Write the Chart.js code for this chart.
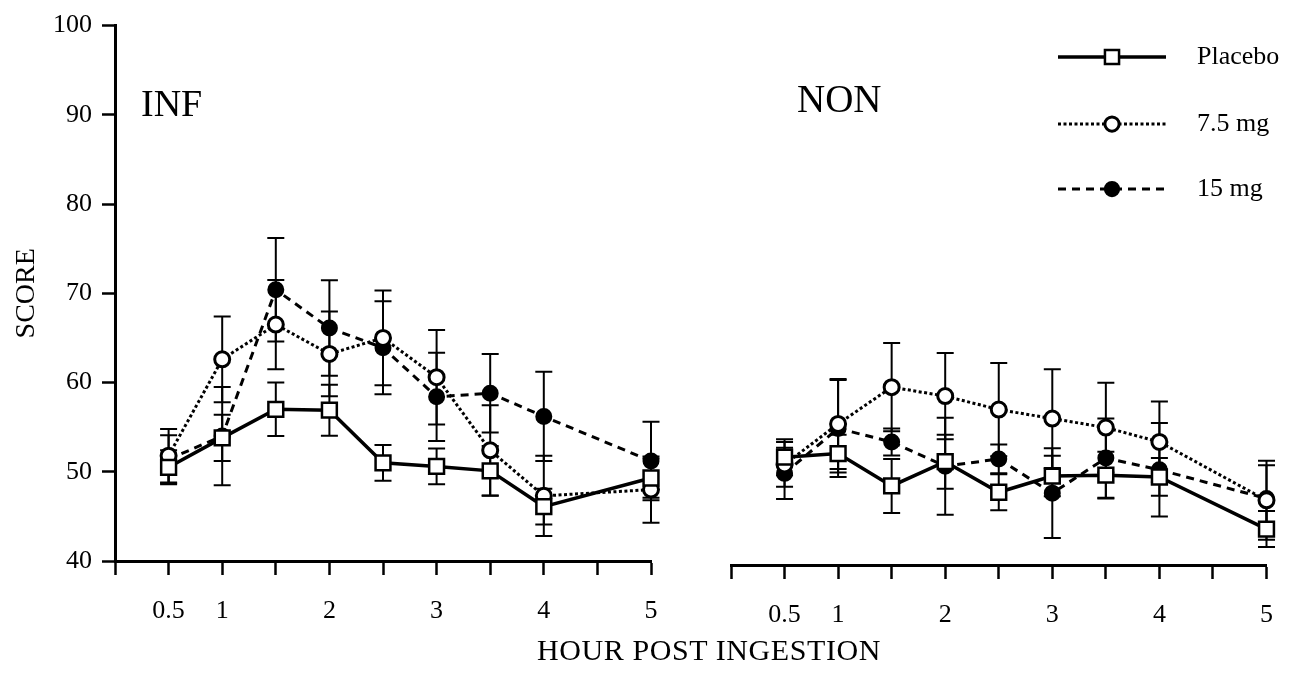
<!DOCTYPE html>
<html>
<head>
<meta charset="utf-8">
<script src="https://cdn.jsdelivr.net/npm/chart.js@4.4.1/dist/chart.umd.min.js"></script>
<style>
  body { margin: 0; background: #fff; width: 1290px; height: 688px; position: relative; overflow: hidden; }
  #left { position: absolute; left: 0; top: 0; }
  #right { position: absolute; left: 690px; top: 0; }
  #xtitle { position: absolute; left: 0; width: 1418px; top: 634px; line-height: 32px; text-align: center;
            font-family: "Liberation Serif", serif; font-size: 30px; letter-spacing: 0.6px; color: #000; }
</style>
</head>
<body>
<canvas id="left" width="700" height="688"></canvas>
<canvas id="right" width="604" height="688"></canvas>
<div id="xtitle">HOUR POST INGESTION</div>
<script>
// hours after ingestion, shared by both panels
let hours = [0.5, 1, 1.5, 2, 2.5, 3, 3.5, 4, 5];
let xTickLabels = [0.5, 1, 2, 3, 4, 5];
let seriesNames = ["Placebo", "7.5 mg", "15 mg"];

// INF panel: means and error (+/-)
let infPlacebo = [50.5, 53.8, 57.0, 56.9, 51.0, 50.6, 50.1, 46.1, 49.3];
let infPlaceboErr = [1.9, 2.6, 3.0, 2.85, 2.0, 2.0, 2.8, 2.0, 2.2];
let inf75 = [51.8, 62.6, 66.5, 63.2, 65.0, 60.6, 52.4, 47.3, 48.0];
let inf75Err = [3.0, 4.8, 5.0, 4.75, 5.3, 5.3, 5.05, 4.5, 3.7];
let inf15 = [51.4, 54.0, 70.4, 66.1, 63.9, 58.4, 58.8, 56.2, 51.2];
let inf15Err = [2.7, 5.5, 5.8, 5.35, 5.2, 4.95, 4.4, 5.0, 4.4];

// NON panel
let nonPlacebo = [52.0, 52.4, 48.8, 51.5, 48.1, 49.9, 50.0, 49.8, 44.0];
let nonPlaceboErr = [2.0, 2.1, 3.0, 3.0, 2.0, 2.25, 2.6, 2.1, 2.0];
let non75 = [51.2, 55.7, 59.8, 58.8, 57.3, 56.3, 55.3, 53.7, 47.2];
let non75Err = [2.5, 5.0, 4.9, 4.8, 5.2, 5.5, 5.0, 4.5, 4.4];
let non15 = [50.2, 55.2, 53.7, 51.0, 51.8, 48.0, 51.9, 50.6, 47.4];
let non15Err = [2.85, 5.4, 1.5, 5.4, 1.6, 5.0, 4.4, 5.2, 3.7];

const FONT = "Liberation Serif";

// line / marker look for each group
const looks = [
  { pointStyle: "rect", pointRadius: 10.5, pointBackgroundColor: "#fff", borderWidth: 3.5, borderDash: [], pointBorderWidth: 2.5 },
  { pointStyle: "circle", pointRadius: 7.5, pointBackgroundColor: "#fff", borderWidth: 3, borderDash: [3, 2.5], pointBorderWidth: 3 },
  { pointStyle: "circle", pointRadius: 7.5, pointBackgroundColor: "#000", borderWidth: 3, borderDash: [8, 6], pointBorderWidth: 2 }
];

function makeDatasets(groups) {
  return groups.map((g, i) => Object.assign({
    label: seriesNames[i],
    data: hours.map((h, k) => ({ x: h, y: g.vals[k] })),
    errors: g.errs,
    borderColor: "#000",
    pointBorderColor: "#000",
    pointHoverRadius: looks[i].pointRadius,
    tension: 0,
    clip: false
  }, looks[i]));
}

// vertical error bars with caps, drawn under the lines and markers
const errorBars = {
  id: "errorBars",
  beforeDatasetsDraw(chart) {
    const ctx = chart.ctx;
    const xs = chart.scales.x, ys = chart.scales.y;
    ctx.save();
    ctx.strokeStyle = "#000";
    ctx.lineWidth = 2;
    chart.data.datasets.forEach(ds => {
      ds.data.forEach((p, i) => {
        const e = ds.errors[i];
        const px = xs.getPixelForValue(p.x);
        const top = ys.getPixelForValue(p.y + e);
        const bot = ys.getPixelForValue(p.y - e);
        ctx.beginPath();
        ctx.moveTo(px, top); ctx.lineTo(px, bot);
        ctx.moveTo(px - 8.5, top); ctx.lineTo(px + 8.5, top);
        ctx.moveTo(px - 8.5, bot); ctx.lineTo(px + 8.5, bot);
        ctx.stroke();
      });
    });
    ctx.restore();
  }
};

// panel name (INF / NON)
const panelLabel = {
  id: "panelLabel",
  afterDraw(chart, args, opts) {
    const ctx = chart.ctx;
    ctx.save();
    ctx.fillStyle = "#000";
    ctx.font = opts.size + "px '" + FONT + "'";
    ctx.textBaseline = "middle";
    ctx.fillText(opts.text, chart.chartArea.left + opts.dx, chart.chartArea.top + opts.dy);
    ctx.restore();
  }
};

// legend with line + marker sample
const lineLegend = {
  id: "lineLegend",
  afterDraw(chart, args, opts) {
    if (!opts.show) return;
    const ctx = chart.ctx;
    ctx.save();
    chart.data.datasets.forEach((ds, i) => {
      const y = opts.rows[i];
      ctx.strokeStyle = "#000";
      ctx.lineWidth = ds.borderWidth;
      ctx.setLineDash(ds.borderDash);
      ctx.beginPath();
      ctx.moveTo(opts.x0, y); ctx.lineTo(opts.x1, y);
      ctx.stroke();
      ctx.setLineDash([]);
      ctx.fillStyle = ds.pointBackgroundColor;
      ctx.lineWidth = ds.pointBorderWidth;
      Chart.helpers.drawPoint(ctx, { pointStyle: ds.pointStyle, radius: ds.pointRadius * 0.95, rotation: 0, borderWidth: ds.pointBorderWidth },
        (opts.x0 + opts.x1) / 2, y);
      ctx.fillStyle = "#000";
      ctx.font = "26px '" + FONT + "'";
      ctx.textBaseline = "middle";
      ctx.fillText(ds.label, opts.tx, y);
    });
    ctx.restore();
  }
};

function xScale(height) {
  return {
    type: "linear", min: 0, max: 5,
    afterFit: s => { s.height = height; },
    grid: { drawOnChartArea: false, drawTicks: true, tickLength: 14, tickWidth: 2.5, tickColor: "#000" },
    border: { display: true, color: "#000", width: 3 },
    ticks: {
      stepSize: 0.5, autoSkip: false, maxRotation: 0, padding: 21, color: "#000",
      font: { family: FONT, size: 26 },
      callback: v => xTickLabels.includes(v) ? String(v) : ""
    }
  };
}

function yScale(show) {
  return {
    display: show, min: 40, max: 100,
    afterFit: s => { if (show) s.width = 115; },
    grid: { drawOnChartArea: false, drawTicks: true, tickLength: 13, tickWidth: 2.5, tickColor: "#000" },
    border: { display: true, color: "#000", width: 3 },
    ticks: { stepSize: 10, padding: 10, color: "#000", font: { family: FONT, size: 26 } },
    title: { display: true, text: "SCORE", color: "#000", font: { family: FONT, size: 28 }, padding: { top: 10, bottom: 0 } }
  };
}

function baseOptions(padding, xHeight, showY, label, legend) {
  return {
    responsive: false,
    animation: false,
    events: [],
    layout: { padding: padding },
    scales: { x: xScale(xHeight), y: yScale(showY) },
    plugins: {
      legend: { display: false },
      tooltip: { enabled: false },
      panelLabel: label,
      lineLegend: legend
    }
  };
}

new Chart("left", {
  type: "line",
  data: {
    datasets: makeDatasets([
      { vals: infPlacebo, errs: infPlaceboErr },
      { vals: inf75, errs: inf75Err },
      { vals: inf15, errs: inf15Err }
    ])
  },
  options: baseOptions({ left: 0, right: 49, top: 22, bottom: 0 }, 127, true,
    { text: "INF", dx: 26, dy: 80, size: 38 }, { show: false }),
  plugins: [errorBars, panelLabel, lineLegend]
});

new Chart("right", {
  type: "line",
  data: {
    datasets: makeDatasets([
      { vals: nonPlacebo, errs: nonPlaceboErr },
      { vals: non75, errs: non75Err },
      { vals: non15, errs: non15Err }
    ])
  },
  options: baseOptions({ left: 41, right: 20, top: 26, bottom: 0 }, 123, false,
    { text: "NON", dx: 66, dy: 76, size: 39 },
    { show: true, rows: [57, 124, 189], x0: 368, x1: 476, tx: 507 }),
  plugins: [errorBars, panelLabel, lineLegend]
});
</script>
</body>
</html>
